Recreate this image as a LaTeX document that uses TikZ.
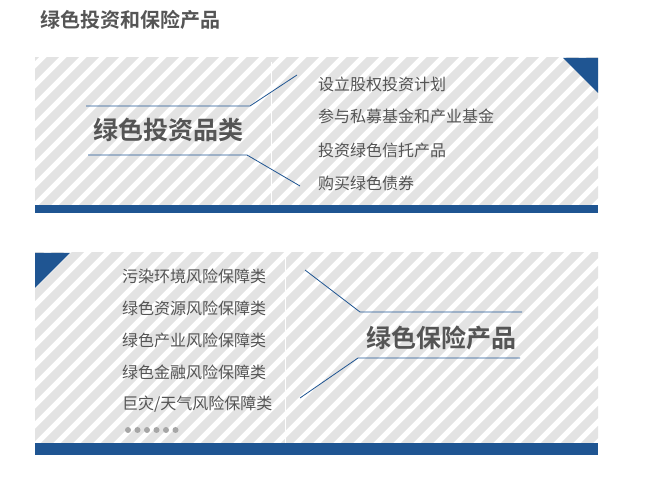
\documentclass[tikz,border=0pt]{standalone}
\usepackage{fontspec}
\setmainfont{Noto Sans CJK SC}
\newfontfamily\cjkbold{Noto Sans CJK SC Bold}
\definecolor{navy}{HTML}{1F5592}
\definecolor{stripegray}{HTML}{E3E3E3}
\definecolor{textgray}{HTML}{555555}
\begin{document}
\begin{tikzpicture}[x=1pt, y=-1pt]

% styles
\tikzstyle{stripe} = [stripegray, line width=8.5pt]
\tikzstyle{item} = [anchor=west, text=textgray, font=\fontsize{16}{18}\selectfont, inner sep=0pt]
\tikzstyle{heading} = [text=textgray, font=\cjkbold\fontsize{25}{27}\selectfont, inner sep=0pt]
\tikzstyle{link} = [navy, line width=0.8pt]
\tikzstyle{bar} = [fill=navy, draw=none]

\useasboundingbox (0,0) rectangle (654,478);

\node[anchor=west, text=textgray, font=\cjkbold\fontsize{20}{22}\selectfont, inner sep=0pt] (title) at (40,20) {绿色投资和保险产品};

% panel one
\begin{scope}
\clip (35,58) rectangle (598,206);
\foreach \i in {-200,-180,...,620}
  \draw[stripe] (\i,250) -- ++(200,-200);
\end{scope}
\draw[white, line width=1pt] (271,62) -- (271,205);
\fill[navy] (563,58) -- (598,58) -- (598,93) -- cycle;
\fill[bar] (35,205) rectangle (598,213);

\node[heading] (invest) at (168,130) {绿色投资品类};
\coordinate (i1) at (86,106);
\coordinate (i2) at (250,106);
\coordinate (i3) at (88,155);
\coordinate (i4) at (247,155);
\node[item] (a1) at (318,84) {设立股权投资计划};
\node[item] (a2) at (318,116) {参与私募基金和产业基金};
\node[item] (a3) at (318,150) {投资绿色信托产品};
\node[item] (a4) at (318,183) {购买绿色债券};
\coordinate (ie1) at (297,75);
\coordinate (ie2) at (300,186);
\draw[link] (i1) -- (i2) -- (ie1);
\draw[link] (i3) -- (i4) -- (ie2);

% panel two
\begin{scope}
\clip (35,253) rectangle (598,444);
\foreach \i in {-200,-180,...,620}
  \draw[stripe] (\i,470) -- ++(230,-230);
\end{scope}
\draw[white, line width=1pt] (285,258) -- (285,443);
\fill[navy] (35,253) -- (70,253) -- (35,288) -- cycle;
\fill[bar] (35,443) rectangle (598,455);

\node[heading] (insure) at (441,338) {绿色保险产品};
\node[item] (b1) at (122,276) {污染环境风险保障类};
\node[item] (b2) at (122,308) {绿色资源风险保障类};
\node[item] (b3) at (122,340) {绿色产业风险保障类};
\node[item] (b4) at (122,372) {绿色金融风险保障类};
\node[item] (b5) at (122,404) {巨灾/天气风险保障类};
\foreach \k in {0,...,5}
  \fill[gray!70] (128+\k*9.5,430) circle (3pt);
\coordinate (s1) at (305,270);
\coordinate (s2) at (360,312);
\coordinate (s3) at (522,312);
\coordinate (s4) at (300,398);
\coordinate (s5) at (358,358);
\coordinate (s6) at (520,358);
\draw[link] (s1) -- (s2) -- (s3);
\draw[link] (s4) -- (s5) -- (s6);
\end{tikzpicture}
\end{document}
